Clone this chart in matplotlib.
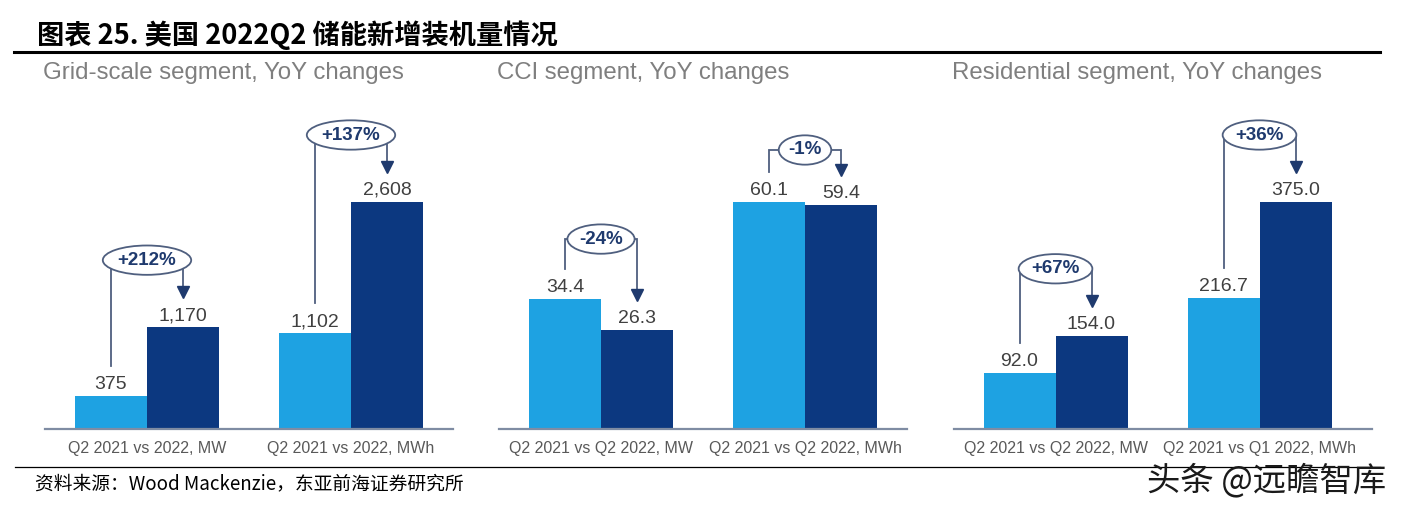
import matplotlib
matplotlib.use("Agg")
import matplotlib.pyplot as plt
from matplotlib.lines import Line2D
import numpy as np

plt.rcParams["font.family"] = ["Liberation Sans", "Noto Sans CJK SC", "DejaVu Sans"]

# ---------------- data ----------------
panel_titles = ["Grid-scale segment, YoY changes",
                "CCI segment, YoY changes",
                "Residential segment, YoY changes"]
categories_grid = ["Q2 2021 vs 2022, MW", "Q2 2021 vs 2022, MWh"]
categories_cci = ["Q2 2021 vs Q2 2022, MW", "Q2 2021 vs Q2 2022, MWh"]
categories_res = ["Q2 2021 vs Q2 2022, MW", "Q2 2021 vs Q1 2022, MWh"]
grid_before = [375, 1102]
grid_after = [1170, 2608]
cci_before = [34.4, 60.1]
cci_after = [26.3, 59.4]
res_before = [92.0, 216.7]
res_after = [154.0, 375.0]
yoy_grid = ["+212%", "+137%"]
yoy_cci = ["-24%", "-1%"]
yoy_res = ["+67%", "+36%"]
title = "图表 25. 美国 2022Q2 储能新增装机量情况"
source = "资料来源：Wood Mackenzie，东亚前海证券研究所"
watermark = "头条 @远瞻智库"

# ---------------- style ----------------
W, H = 1402, 505
PX = 72 / 100  # points per pixel
LIGHT = "#1ea2e2"
DARK = "#0c3880"
LINEC = "#4f5f7f"
NAVY = "#1f3a6e"
VALC = "#404040"

fig = plt.figure(figsize=(W / 100, H / 100), dpi=100)

panels = [
    (categories_grid, grid_before, grid_after, yoy_grid, lambda v: f"{v:,.0f}", [37, 37]),
    (categories_cci, cci_before, cci_after, yoy_cci, lambda v: f"{v:.1f}", [30, 22]),
    (categories_res, res_before, res_after, yoy_res, lambda v: f"{v:.1f}", [37, 37]),
]
centers_px = [249, 703, 1157.5]
unit_px = 204
base_y = 429
ax_h = 330
bar_w = 72 / unit_px

for k, (cats, before, after, yoy, fmt, rises) in enumerate(panels):
    left_px = centers_px[k] - unit_px
    xlim = (-0.5, 1.5) if k < 2 else (-0.5, 1.55)
    ax_w = unit_px * (xlim[1] - xlim[0])
    ax = fig.add_axes([left_px / W, 1 - base_y / H, ax_w / W, ax_h / H])
    ymax = max(max(before), max(after)) * ax_h / 227
    ppu = ax_h / ymax
    ax.set_xlim(*xlim)
    ax.set_ylim(0, ymax)
    x = np.arange(len(cats))
    ax.bar(x - bar_w / 2, before, bar_w, color=LIGHT, zorder=2)
    ax.bar(x + bar_w / 2, after, bar_w, color=DARK, zorder=2)
    for sp in ["top", "right", "left"]:
        ax.spines[sp].set_visible(False)
    ax.spines["bottom"].set_color("#7f8ca3")
    ax.spines["bottom"].set_linewidth(1.6)
    ax.set_yticks([])
    ax.set_xticks(x)
    ax.set_xticklabels(cats)
    ax.tick_params(axis="x", length=0, pad=9, labelsize=11.5, labelcolor="#595959")
    ax.patch.set_alpha(0)

    for i in range(len(cats)):
        lx, rx = i - bar_w / 2, i + bar_w / 2
        for xx, v in ((lx, before[i]), (rx, after[i])):
            ax.annotate(fmt(v), (xx, v), xytext=(0, 7 * PX), textcoords="offset points",
                        ha="center", va="baseline", fontsize=14, color=VALC)
        lb = before[i] + 30 / ppu
        tip = after[i] + 30 / ppu
        ey = max(lb, tip) + rises[i] / ppu
        ax.plot([lx, lx, rx, rx], [lb, ey, ey, tip + 8 / ppu], color=LINEC, lw=1.3,
                clip_on=False, zorder=3, solid_joinstyle="miter")
        ax.plot([rx], [tip + 5 / ppu], marker="v", ms=8, color=NAVY, clip_on=False, zorder=4)
        ax.text(i, ey, yoy[i], ha="center", va="center", fontsize=13.5, fontweight="bold",
                color=NAVY, zorder=5, clip_on=False,
                bbox=dict(boxstyle="ellipse,pad=0.1", fc="white", ec=LINEC, lw=1.3))

    fig.text((left_px - 2) / W, 1 - 73 / H, panel_titles[k], ha="left", va="center",
             fontsize=17.3, color="#7f7f7f")

# title and rules
fig.text(37 / W, 1 - 35 / H, title, ha="left", va="center", fontsize=19.6,
         fontweight="bold", family=["Noto Sans CJK SC", "DejaVu Sans"], color="black")
fig.add_artist(Line2D([14 / W, 1380 / W], [1 - 51.5 / H] * 2, color="black", lw=2.2))
fig.add_artist(Line2D([15 / W, 1380 / W], [1 - 467 / H] * 2, color="black", lw=0.9))
fig.text(35 / W, 1 - 484 / H, source, ha="left", va="center", fontsize=13.5,
         family=["Noto Sans CJK SC", "DejaVu Sans"], color="black")
fig.text(1386 / W, 1 - 481 / H, watermark, ha="right", va="center", fontsize=24,
         family=["Noto Sans CJK SC", "DejaVu Sans"], color="#1a1a1a")

fig.savefig("out.png", dpi=100)
